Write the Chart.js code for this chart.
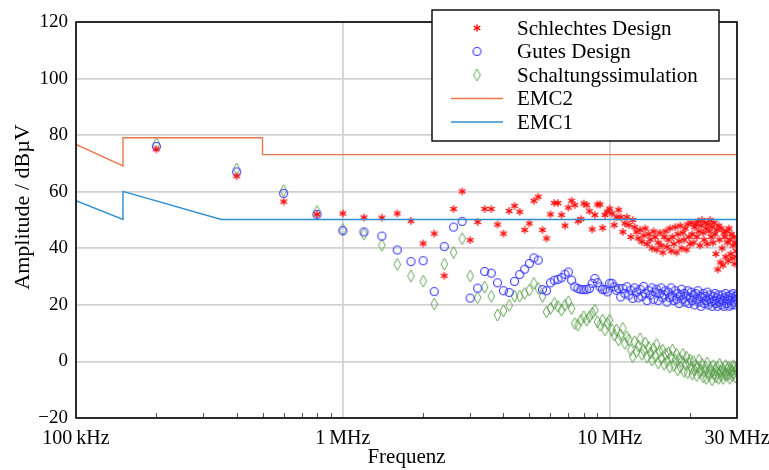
<!DOCTYPE html>
<html>
<head>
<meta charset="utf-8">
<script src="https://cdn.jsdelivr.net/npm/chart.js@4.4.0/dist/chart.umd.min.js"></script>
<style>
html, body { margin: 0; padding: 0; background: #fff; }
</style>
</head>
<body>
<canvas id="chart" width="769" height="470"></canvas>
<script>
// Frequenzen der Messpunkte (MHz)
const freqMHz = [
  0.2, 0.4, 0.6, 0.8, 1.0, 1.2, 1.4, 1.6, 1.8, 2.0,
  2.2, 2.4, 2.6, 2.8, 3.0, 3.2, 3.4, 3.6, 3.8, 4.0,
  4.2, 4.4, 4.6, 4.8, 5.0, 5.2, 5.4, 5.6, 5.8, 6.0,
  6.2, 6.4, 6.6, 6.8, 7.0, 7.2, 7.4, 7.6, 7.8, 8.0,
  8.2, 8.4, 8.6, 8.8, 9.0, 9.2, 9.4, 9.6, 9.8, 10.0,
  10.2, 10.4, 10.6, 10.8, 11.0, 11.2, 11.4, 11.6, 11.8, 12.0,
  12.2, 12.4, 12.6, 12.8, 13.0, 13.2, 13.4, 13.6, 13.8, 14.0,
  14.2, 14.4, 14.6, 14.8, 15.0, 15.2, 15.4, 15.6, 15.8, 16.0,
  16.2, 16.4, 16.6, 16.8, 17.0, 17.2, 17.4, 17.6, 17.8, 18.0,
  18.2, 18.4, 18.6, 18.8, 19.0, 19.2, 19.4, 19.6, 19.8, 20.0,
  20.2, 20.4, 20.6, 20.8, 21.0, 21.2, 21.4, 21.6, 21.8, 22.0,
  22.2, 22.4, 22.6, 22.8, 23.0, 23.2, 23.4, 23.6, 23.8, 24.0,
  24.2, 24.4, 24.6, 24.8, 25.0, 25.2, 25.4, 25.6, 25.8, 26.0,
  26.2, 26.4, 26.6, 26.8, 27.0, 27.2, 27.4, 27.6, 27.8, 28.0,
  28.2, 28.4, 28.6, 28.8, 29.0, 29.2, 29.4, 29.6, 29.8, 30.0
];

// Schlechtes Design (dBµV)
const schlecht = [
  75, 65.5, 56.5, 52, 52.3, 50.9, 50.8, 52.3, 49.7, 41.7,
  45.2, 30.3, 53.9, 60.1, 42.9, 49.3, 53.9, 53.9, 48.4, 45.2,
  53.2, 55.0, 52.9, 46.5, 48.8, 56.8, 58.2, 46.5, 43.5, 52,
  56, 56, 51.8, 48, 54.4, 56.8, 55.3, 49.6, 50.3, 55.8,
  55.3, 53.1, 46.7, 51.8, 55.5, 55.5, 47.2, 51.8, 53, 54,
  52.3, 48.2, 51, 53.6, 51, 45.8, 48.8, 51, 48.2, 44,
  50, 47.5, 45.8, 43.5, 46.5, 42.3, 44.5, 47, 41.5, 45,
  43, 40, 46, 44, 39.5, 42, 45.5, 41, 38.5, 44,
  46, 40.5, 43, 47, 39, 44, 41.5, 47.5, 38.5, 45,
  42.5, 48, 40, 45.5, 43, 47, 39.5, 48.5, 44, 41.5,
  49, 45, 42, 47.5, 48.5, 44, 49.5, 46, 41, 48,
  50, 45.5, 43, 49, 47, 41.5, 48.5, 46, 50, 44,
  47.5, 42, 49, 45, 38, 46.5, 32.5, 48, 43, 35,
  47, 40, 34, 45.5, 44, 37, 46, 42, 35.5, 47,
  43, 38, 45, 36.5, 41, 44, 34.5, 42, 39, 37
];

// Gutes Design (dBµV)
const gut = [
  76, 67, 59.4, 52, 46.2, 45.8, 44.3, 39.4, 35.3, 35.6,
  24.7, 40.6, 47.5, 49.5, 22.4, 25.9, 31.8, 31.2, 27.8, 25.0,
  24.4, 28.3, 30.7, 32.6, 34.6, 36.6, 35.8, 25.4, 25, 27.8,
  28.7, 29, 29.6, 30.8, 31.6, 28.7, 26.4, 25.8, 25.4, 25.4,
  25.4, 25.8, 27.6, 29.3, 27.8, 26.4, 25.4, 25.4, 24.6, 27.6,
  27.6, 26.4, 25.2, 25.8, 22.8, 25.8, 24, 26.4, 23.4, 25.2,
  22.3, 26, 24.5, 22.5, 25.5, 23, 26.5, 24, 21.5, 25,
  23.5, 26, 22, 24.5, 25.5, 21.5, 24, 26, 22.5, 23.5,
  25, 21, 24.5, 22.5, 26, 23, 21.5, 25, 22, 24,
  20.5, 23.5, 25.5, 22, 24, 21, 23, 25, 20.5, 22.5,
  24.5, 21.5, 23.5, 20, 24, 22, 25, 21, 23, 19.5,
  22.5, 24, 20.5, 23, 21.5, 24.5, 20, 22, 23.5, 21,
  19.5, 23, 21.5, 24, 20.5, 22.5, 19.5, 23.5, 21, 22,
  20, 23.5, 21.5, 19.5, 22.5, 24, 20.5, 22, 23, 19.5,
  21.5, 23.5, 20, 22.5, 24, 21, 20, 23, 22, 23.5
];

// Schaltungssimulation (dBµV)
const simulation = [
  77, 68, 60.4, 53, 46.6, 45, 41.1, 34.3, 30.2, 28.4,
  20.3, 34.4, 38.5, 43.4, 30.2, 22.6, 26.3, 23.0, 16.4, 17.9,
  19.8, 23.1, 23.1, 24, 25.2, 27.6, 25.8, 23, 17.5, 18.7,
  20.5, 19.5, 18.1, 19.9, 21.1, 18.7, 13.4, 12.8, 14.6, 15.8,
  14.6, 15.8, 17, 18.1, 14, 12.8, 14.6, 11.1, 13.4, 14.6,
  11.1, 9.3, 11.1, 7.6, 9.3, 11.7, 6.4, 8.7, 7.6, 4.1,
  1.7, 7, 3.5, 5.5, 8, 2.5, 4, 6.5, 1.5, 5,
  3, 0.5, 4.5, 2, 6, -0.5, 3.5, 1, 4, -1,
  2.5, 0, 3, -2, 1.5, 4, -1.5, 0.5, 2.5, -3,
  1, -2, 0, 2.5, -3.5, -1, 1.5, -4, -0.5, 0.5,
  -2.5, -4.5, 0, -3, -1.5, -5, -2, 0.5, -4, -3,
  -1, -5.5, -3.5, -2, -6, -0.5, -4, -5, -2.5, -3.5,
  -6.5, -1.5, -4.5, -3, -5.5, -2, -4, -6, -1, -3.5,
  -5, -2.5, -6, -3.5, -4.5, -1.5, -5, -3, -2, -4.5,
  -6, -2.5, -3.5, -5, -1.5, -4, -2, -5.5, -3, -2.5
];

// Grenzwerte
const emc2Freq = [0.1, 0.15, 0.15, 0.5, 0.5, 30];
const emc2Level = [76.7, 69.1, 79.1, 79.1, 73.1, 73.1];
const emc1Freq = [0.1, 0.15, 0.15, 0.35, 30];
const emc1Level = [56.8, 50.2, 60.1, 50.2, 50.2];

// Achsen
const xTickValues = [0.1, 1, 10, 30];
const xTickLabels = ['100\u2009kHz', '1\u2009MHz', '10\u2009MHz', '30\u2009MHz'];
const xMinorTicks = [0.2, 0.3, 0.4, 0.5, 0.6, 0.7, 0.8, 0.9, 2, 3, 4, 5, 6, 7, 8, 9, 20];
const yTitle = 'Amplitude / dBµV';

const FONT = "'Liberation Serif', 'DejaVu Serif', serif";

function toPoints(xs, ys) {
  return xs.map((f, i) => ({ x: f, y: ys[i] }));
}

// Marker als kleine Canvas-Bilder
function makeMarker(w, h, draw) {
  const c = document.createElement('canvas');
  c.width = w;
  c.height = h;
  draw(c.getContext('2d'), w / 2, h / 2);
  return c;
}

const starMarker = makeMarker(10, 10, (ctx, cx, cy) => {
  ctx.strokeStyle = '#ff0d0d';
  ctx.lineWidth = 1.3;
  for (let i = 0; i < 3; i++) {
    const a = Math.PI / 2 + i * Math.PI / 3;
    ctx.beginPath();
    ctx.moveTo(cx + 3.8 * Math.cos(a), cy + 3.8 * Math.sin(a));
    ctx.lineTo(cx - 3.8 * Math.cos(a), cy - 3.8 * Math.sin(a));
    ctx.stroke();
  }
});

const circleMarker = makeMarker(11, 11, (ctx, cx, cy) => {
  ctx.strokeStyle = '#3535ff';
  ctx.lineWidth = 1.1;
  ctx.beginPath();
  ctx.arc(cx, cy, 4, 0, Math.PI * 2);
  ctx.stroke();
});

const diamondMarker = makeMarker(9, 14, (ctx, cx, cy) => {
  ctx.strokeStyle = '#559c45';
  ctx.lineWidth = 0.9;
  ctx.beginPath();
  ctx.moveTo(cx, cy - 6);
  ctx.lineTo(cx + 3.3, cy);
  ctx.lineTo(cx, cy + 6);
  ctx.lineTo(cx - 3.3, cy);
  ctx.closePath();
  ctx.stroke();
});

// Rahmen, kleine Striche, y-Beschriftung und Legende
const rahmenUndLegende = {
  id: 'rahmenUndLegende',
  afterDatasetsDraw(chart) {
    const { ctx, chartArea: a, scales: { x } } = chart;
    ctx.save();

    ctx.strokeStyle = '#555';
    ctx.lineWidth = 1;
    xMinorTicks.forEach(v => {
      const px = Math.round(x.getPixelForValue(v)) + 0.5;
      ctx.beginPath();
      ctx.moveTo(px, a.bottom);
      ctx.lineTo(px, a.bottom - 5);
      ctx.stroke();
    });

    ctx.strokeStyle = '#000';
    ctx.lineWidth = 1.6;
    ctx.strokeRect(a.left, a.top, a.right - a.left, a.bottom - a.top);

    // y-Achsenbeschriftung
    ctx.save();
    ctx.translate(23, 207);
    ctx.rotate(-Math.PI / 2);
    ctx.font = '22px ' + FONT;
    ctx.fillStyle = '#000';
    ctx.textAlign = 'center';
    ctx.textBaseline = 'middle';
    ctx.fillText(yTitle, 0, 0);
    ctx.restore();

    // Legende
    const box = { left: 432, top: 10, right: 719, bottom: 141 };
    ctx.fillStyle = '#fff';
    ctx.fillRect(box.left, box.top, box.right - box.left, box.bottom - box.top);
    ctx.strokeStyle = '#000';
    ctx.lineWidth = 1.4;
    ctx.strokeRect(box.left, box.top, box.right - box.left, box.bottom - box.top);

    ctx.font = '21px ' + FONT;
    ctx.textBaseline = 'middle';
    ctx.textAlign = 'left';
    chart.data.datasets.forEach((ds, i) => {
      const y = 28 + i * 23.5;
      if (ds.showLine === false) {
        const img = ds.pointStyle;
        ctx.drawImage(img, 477 - img.width / 2, y - img.height / 2);
      } else {
        ctx.strokeStyle = ds.borderColor;
        ctx.lineWidth = ds.borderWidth;
        ctx.beginPath();
        ctx.moveTo(451, y);
        ctx.lineTo(503, y);
        ctx.stroke();
      }
      ctx.fillStyle = '#000';
      ctx.fillText(ds.label, 517, y + 1);
    });

    ctx.restore();
  }
};

new Chart(document.getElementById('chart'), {
  type: 'scatter',
  data: {
    datasets: [
      {
        label: 'Schlechtes Design',
        data: toPoints(freqMHz, schlecht),
        showLine: false,
        pointStyle: starMarker,
        order: 3
      },
      {
        label: 'Gutes Design',
        data: toPoints(freqMHz, gut),
        showLine: false,
        pointStyle: circleMarker,
        order: 4
      },
      {
        label: 'Schaltungssimulation',
        data: toPoints(freqMHz, simulation),
        showLine: false,
        pointStyle: diamondMarker,
        order: 5
      },
      {
        label: 'EMC2',
        data: toPoints(emc2Freq, emc2Level),
        showLine: true,
        borderColor: '#e8774f',
        borderWidth: 1.4,
        pointRadius: 0,
        order: 1
      },
      {
        label: 'EMC1',
        data: toPoints(emc1Freq, emc1Level),
        showLine: true,
        borderColor: '#2f8fd0',
        borderWidth: 1.4,
        pointRadius: 0,
        order: 2
      }
    ]
  },
  options: {
    responsive: false,
    animation: false,
    devicePixelRatio: 1,
    layout: { padding: { top: 22, right: 32, left: 0, bottom: 0 } },
    plugins: {
      legend: { display: false },
      tooltip: { enabled: false }
    },
    scales: {
      x: {
        type: 'logarithmic',
        min: 0.1,
        max: 30,
        afterBuildTicks: scale => {
          scale.ticks = xTickValues.map(v => ({ value: v }));
        },
        afterFit: scale => {
          scale.height = 52;
          scale.paddingLeft = 0;
          scale.paddingRight = 0;
        },
        ticks: {
          autoSkip: false,
          maxRotation: 0,
          padding: 9,
          color: '#000',
          font: { family: FONT, size: 20 },
          callback: value => {
            const i = xTickValues.indexOf(value);
            return i >= 0 ? xTickLabels[i] : '';
          }
        },
        grid: { color: '#d2d2d2', lineWidth: 1.8, drawTicks: false },
        border: { display: false },
        title: {
          display: true,
          text: 'Frequenz',
          color: '#000',
          font: { family: FONT, size: 21 },
          padding: { top: 0, bottom: 0 }
        }
      },
      y: {
        min: -20,
        max: 120,
        afterFit: scale => {
          scale.width = 76;
        },
        ticks: {
          stepSize: 20,
          padding: 8,
          color: '#000',
          font: { family: FONT, size: 19 },
          callback: value => (value < 0 ? '\u2212' + Math.abs(value) : String(value))
        },
        grid: { color: '#d2d2d2', lineWidth: 1.8, drawTicks: false },
        border: { display: false }
      }
    }
  },
  plugins: [rahmenUndLegende]
});
</script>
</body>
</html>
